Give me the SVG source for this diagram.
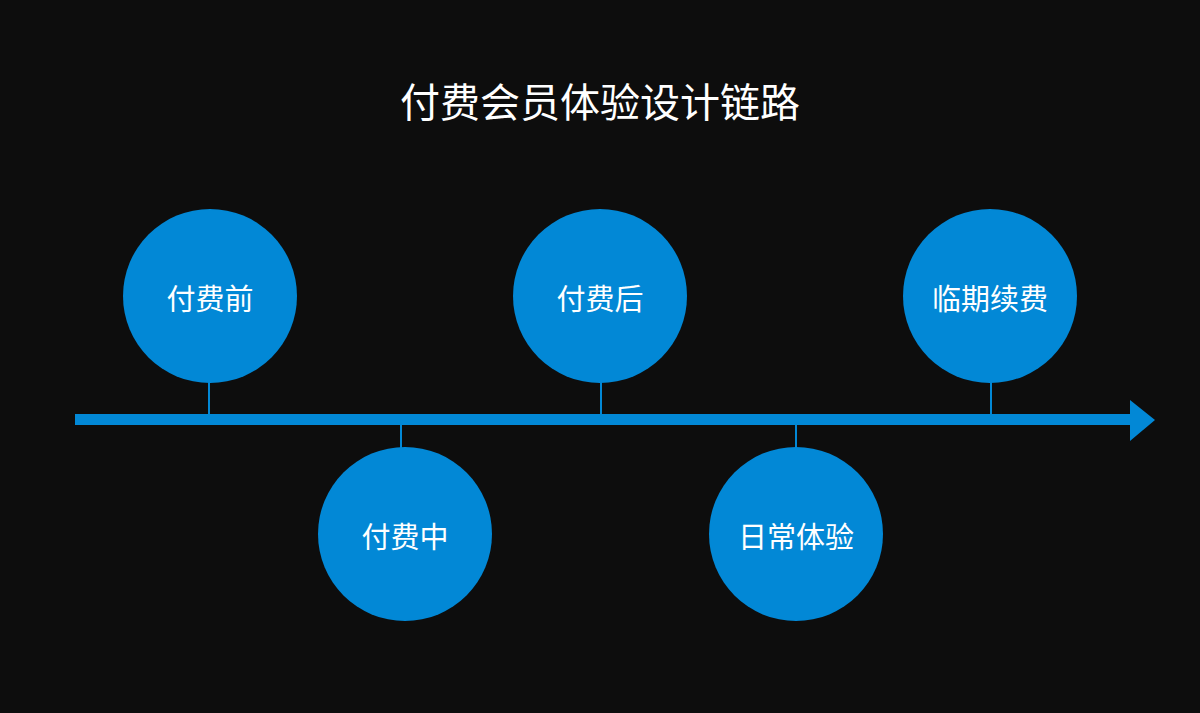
<svg xmlns="http://www.w3.org/2000/svg" width="1200" height="713" viewBox="0 0 1200 713">
<style>
.node circle{fill:#0288d6}
.lbl{fill:#ffffff;font-family:"Noto Sans CJK SC","Noto Sans",sans-serif;font-size:29px;text-anchor:middle;dominant-baseline:central}
.title{fill:#ffffff;font-family:"Noto Sans CJK SC","Noto Sans",sans-serif;font-size:40px;text-anchor:middle;dominant-baseline:central}
.stem{stroke:#0288d6;stroke-width:2}
</style>
<rect width="1200" height="713" fill="#0d0d0d"/>
<text class="title" x="600" y="100">付费会员体验设计链路</text>
<g id="connectors">
<rect x="75" y="414" width="1058" height="11" fill="#0288d6"/>
<polygon points="1130,400 1155,420 1130,441" fill="#0288d6"/>
<line class="stem" x1="209" y1="380" x2="209" y2="414"/>
<line class="stem" x1="401" y1="425" x2="401" y2="450"/>
<line class="stem" x1="601" y1="380" x2="601" y2="414"/>
<line class="stem" x1="796" y1="425" x2="796" y2="450"/>
<line class="stem" x1="991" y1="380" x2="991" y2="414"/>
</g>
<g id="n1" class="node"><circle cx="210" cy="296" r="87"/><text class="lbl" x="210" y="297">付费前</text></g>
<g id="n2" class="node"><circle cx="405" cy="534" r="87"/><text class="lbl" x="405" y="535">付费中</text></g>
<g id="n3" class="node"><circle cx="600" cy="296" r="87"/><text class="lbl" x="600" y="297">付费后</text></g>
<g id="n4" class="node"><circle cx="796" cy="534" r="87"/><text class="lbl" x="796" y="535">日常体验</text></g>
<g id="n5" class="node"><circle cx="990" cy="296" r="87"/><text class="lbl" x="990" y="297">临期续费</text></g>
</svg>
